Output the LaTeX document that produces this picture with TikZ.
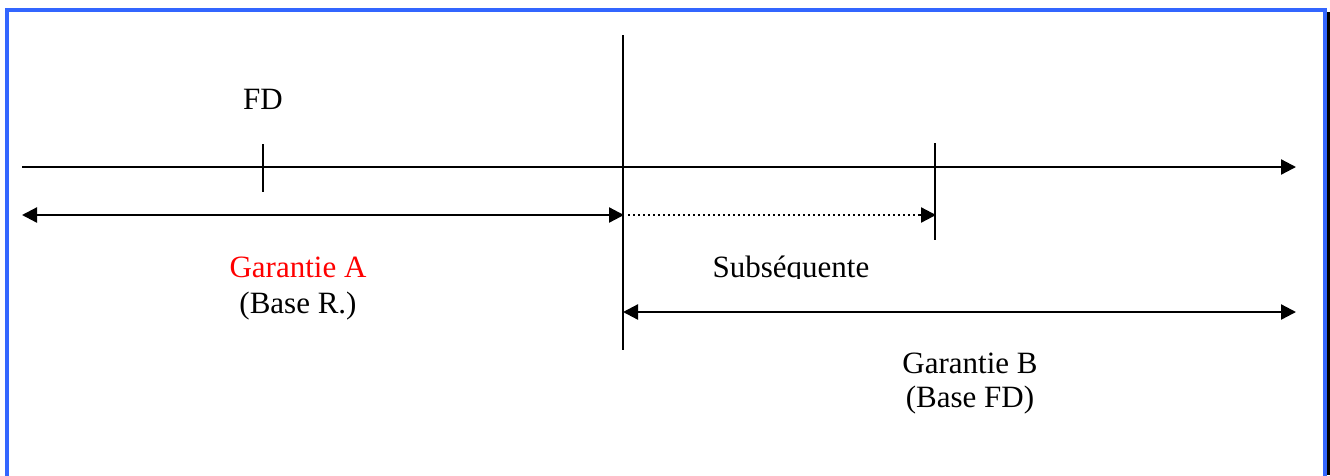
\documentclass[tikz,border=0pt]{standalone}
\usepackage{fontspec}
\setmainfont{Liberation Serif}
\usetikzlibrary{arrows.meta,calc}
\definecolor{frameblue}{HTML}{3366FF}
\begin{document}
\begin{tikzpicture}[x=1pt,y=-1pt,
  rule/.style={line width=2.3pt,black},
  tip/.style={-{Triangle[length=15pt,width=15pt]}},
  twotips/.style={{Triangle[length=15pt,width=15pt]}-{Triangle[length=15pt,width=15pt]}},
  dots/.style={line width=2.3pt,dash pattern=on 2.3pt off 2.7pt},
  lbl/.style={anchor=base,inner sep=0pt,font=\fontsize{31}{36}\selectfont}]
\useasboundingbox (0,0) rectangle (1330,475);
\fill[white] (0,0) rectangle (1330,475);
% frame with its dark edge on the right
\fill[black] (1327,12) rectangle (1330,475);
\draw[frameblue,line width=4pt] (7,480) -- (7,10) -- (1325,10) -- (1325,480);

% time axis and marks
\coordinate (axL) at (22,167);
\coordinate (axR) at (1296,167);
\coordinate (fdT) at (263,144);
\coordinate (fdB) at (263,192);
\coordinate (midT) at (623,35);
\coordinate (midB) at (623,350);
\coordinate (subT) at (935,143);
\coordinate (subB) at (935,240);
\coordinate (aL) at (22,215);
\coordinate (aR) at (624,215);
\coordinate (sR) at (936,215);
\coordinate (bL) at (623,312);
\coordinate (bR) at (1296,312);

\draw[rule,tip] (axL) -- (axR);
\draw[rule] (fdT) -- (fdB);
\draw[rule] (midT) -- (midB);
\draw[rule] (subT) -- (subB);
\draw[rule,twotips] (aL) -- (aR);
\draw[rule,twotips] (bL) -- (bR);
% dotted follow-up period ending in a solid tip
\draw[dots] ($(aR)+(4,0)$) -- ($(sR)+(-15,0)$);
\draw[rule,tip] ($(sR)+(-16,0)$) -- (sR);

% labels
\node[lbl] (fd) at (263,109) {FD};
\node[lbl,text=red] (ga) at (298,277) {Garantie A};
\node[lbl] (gab) at (298,313) {(Base R.)};
\begin{scope}
  \clip (600,230) rectangle (1000,278);
  \node[lbl] (sub) at (791,277) {Subséquente};
\end{scope}
\node[lbl] (gb) at (970,373) {Garantie B};
\node[lbl] (gbb) at (970,407) {(Base FD)};
\end{tikzpicture}
\end{document}
